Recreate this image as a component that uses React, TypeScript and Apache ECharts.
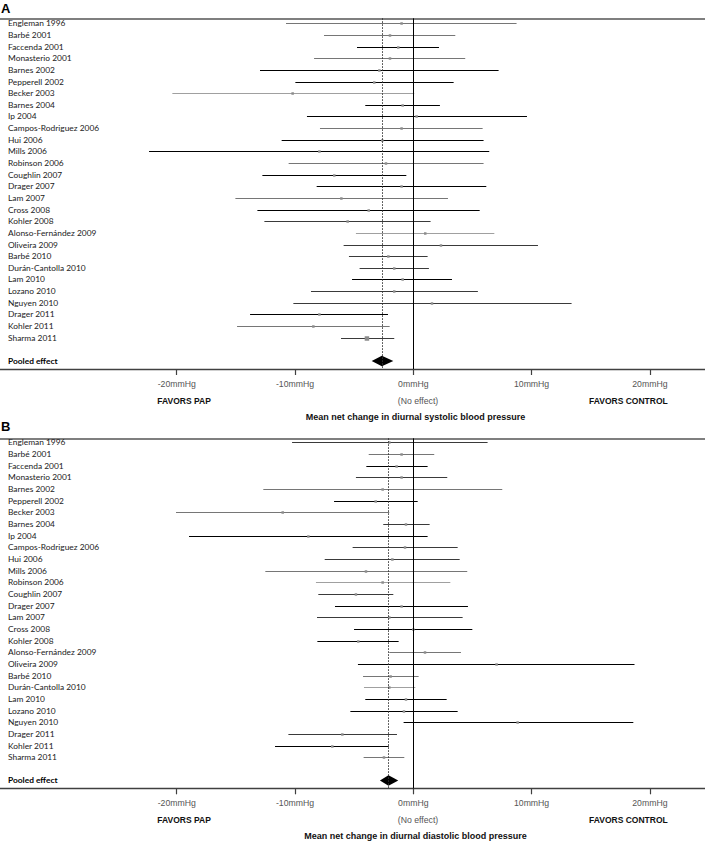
import React, { useEffect, useRef } from "react";
import * as echarts from "echarts";

const studies = [
  "Engleman 1996", "Barbé 2001", "Faccenda 2001", "Monasterio 2001", "Barnes 2002",
  "Pepperell 2002", "Becker 2003", "Barnes 2004", "Ip 2004", "Campos-Rodriguez 2006",
  "Hui 2006", "Mills 2006", "Robinson 2006", "Coughlin 2007", "Drager 2007", "Lam 2007",
  "Cross 2008", "Kohler 2008", "Alonso-Fernández 2009", "Oliveira 2009", "Barbé 2010",
  "Durán-Cantolla 2010", "Lam 2010", "Lozano 2010", "Nguyen 2010", "Drager 2011",
  "Kohler 2011", "Sharma 2011",
];
const pooledLabel = "Pooled effect";

const systolicMean = [-0.99, -1.97, -1.27, -1.97, -2.87, -3.3, -10.2, -0.9, 0.28, -0.99, -2.62, -7.94, -2.31, -6.68, -0.99, -6.08, -3.77, -5.55, 1.01, 2.34, -2.11, -1.61, -0.9, -1.61, 1.58, -7.94, -8.45, -3.92];
const systolicLow = [-10.76, -7.55, -4.76, -8.39, -12.96, -9.97, -20.37, -4.06, -8.99, -7.89, -11.13, -22.34, -10.54, -12.76, -8.17, -15.04, -13.18, -12.59, -4.85, -5.89, -5.44, -4.54, -5.18, -8.65, -10.14, -13.8, -14.9, -6.11];
const systolicHigh = [8.73, 3.55, 2.17, 4.39, 7.21, 3.41, 0.08, 2.25, 9.61, 5.86, 5.94, 6.42, 5.94, -0.59, 6.17, 2.93, 5.61, 1.46, 6.85, 10.54, 1.21, 1.32, 3.27, 5.46, 13.38, -2.14, -2.0, -1.61];
const systolicPooled = [-3.52, -2.66, -1.69]; // low, mean, high

const diastolicMean = [-2.03, -0.99, -1.41, -0.99, -2.59, -3.18, -11.04, -0.62, -8.87, -0.7, -1.77, -4.0, -2.59, -4.85, -0.99, -2.03, 0.0, -4.65, 0.99, 7.04, -1.92, -2.03, -0.62, -0.79, 8.82, -6.0, -6.85, -2.48];
const diastolicLow = [-10.25, -3.77, -3.97, -4.85, -12.68, -6.7, -20.06, -2.54, -18.96, -5.13, -7.49, -12.51, -8.23, -8.03, -6.62, -8.14, -5.01, -8.11, -2.03, -4.68, -4.25, -4.17, -4.06, -5.32, -0.82, -10.56, -11.69, -4.2];
const diastolicHigh = [6.28, 1.77, 1.21, 2.87, 7.52, 0.37, -2.03, 1.38, 1.21, 3.75, 3.92, 4.56, 3.13, -1.69, 4.62, 4.17, 4.99, -1.24, 4.03, 18.7, 0.45, 0.17, 2.82, 3.75, 18.6, -1.38, -2.08, -0.76];
const diastolicPooled = [-2.82, -2.1, -1.27];

const tickValues = [-20, -10, 0, 10, 20];
const tickUnit = "mmHg";
const favorsLeft = "FAVORS PAP";
const noEffect = "(No effect)";
const favorsRight = "FAVORS CONTROL";
const titleA = "Mean net change in diurnal systolic blood pressure";
const titleB = "Mean net change in diurnal diastolic blood pressure";

// styles
const shadeColors = ["#000000", "#3a3a3a", "#767676", "#a0a0a0"];
const shadeA = [2, 2, 0, 2, 0, 0, 3, 0, 0, 2, 0, 0, 2, 0, 0, 2, 0, 1, 3, 1, 1, 1, 0, 1, 1, 0, 2, 1];
const shadeB = [1, 2, 0, 1, 2, 0, 2, 1, 0, 1, 1, 2, 3, 1, 0, 1, 0, 0, 2, 0, 2, 3, 0, 0, 0, 1, 0, 2];

const X_MIN = -34.94;
const X_MAX = 24.66;
const POOLED_ROW = studies.length + 1;
const labelFont = "Lato, 'Noto Sans', sans-serif";
const axisFont = "'Liberation Sans', Arial, sans-serif";

function buildPanel(idx: number, mean: number[], low: number[], high: number[], pooled: number[], shade: number[], bigIdx: number) {
  const rows = mean.map((m, i) => [low[i], high[i], m, i]);
  const renderCI = (params: any, api: any) => {
    const row = api.value(3);
    const a = api.coord([api.value(0), row]);
    const b = api.coord([api.value(1), row]);
    const c = api.coord([api.value(2), row]);
    const s = params.dataIndex === bigIdx ? 4.5 : 2.5;
    const y = Math.round(a[1]) + 0.5;
    return {
      type: "group",
      children: [
        { type: "line", shape: { x1: a[0], y1: y, x2: b[0], y2: y }, style: { stroke: shadeColors[shade[params.dataIndex]], lineWidth: 1.2 } },
        { type: "rect", shape: { x: c[0] - s / 2, y: y - s / 2, width: s, height: s }, style: { fill: "#8c8c8c" } },
      ],
    };
  };
  const renderDiamond = (params: any, api: any) => {
    const row = api.value(3);
    const l = api.coord([api.value(0), row]);
    const h = api.coord([api.value(1), row]);
    const top = api.coord([api.value(2), row - 0.45]);
    const bot = api.coord([api.value(2), row + 0.45]);
    return {
      type: "polygon",
      shape: { points: [l, top, h, bot] },
      style: { fill: "#000" },
    };
  };
  return [
    {
      type: "custom",
      xAxisIndex: idx * 2,
      yAxisIndex: idx,
      renderItem: renderCI,
      encode: { x: [0, 1, 2], y: 3 },
      data: rows,
      silent: true,
      z: 3,
    },
    {
      type: "custom",
      xAxisIndex: idx * 2,
      yAxisIndex: idx,
      renderItem: renderDiamond,
      encode: { x: [0, 1, 2], y: 3 },
      data: [[pooled[0], pooled[2], pooled[1], POOLED_ROW]],
      silent: true,
      z: 4,
      markLine: {
        silent: true,
        symbol: "none",
        label: { show: false },
        data: [
          { xAxis: 0, lineStyle: { color: "#000", width: 1, type: "solid" } },
          { xAxis: pooled[1], lineStyle: { color: "#333", width: 1, type: [1.5, 1.5] } },
        ],
      },
    },
  ];
}

export default function App() {
  const ref = useRef<HTMLDivElement>(null);
  useEffect(() => {
    if (!ref.current) return;
    const chart = echarts.init(ref.current, null, { renderer: "svg" });

    const grids = [
      { left: 0, right: 0, top: 18.3, height: 350.7 },
      { left: 0, right: 0, top: 438.3, height: 350 },
    ];
    const yRanges = [
      [-0.43, 29.69],
      [-0.343, 29.67],
    ];
    const labelVals = [...studies.map((_, i) => i), POOLED_ROW];

    const xAxes: any[] = [];
    const yAxes: any[] = [];
    [0, 1].forEach((g) => {
      xAxes.push({
        type: "value",
        gridIndex: g,
        min: X_MIN,
        max: X_MAX,
        position: "bottom",
        axisLine: { show: true, onZero: false, lineStyle: { color: "#404040", width: 1.3 } },
        axisTick: { show: true, customValues: tickValues, length: 6, lineStyle: { color: "#404040", width: 1.2 } },
        axisLabel: {
          show: true,
          customValues: tickValues,
          formatter: (v: number) => `${v}${tickUnit}`,
          margin: 10,
          color: "#555",
          fontSize: 8.7,
          fontFamily: axisFont,
        },
        splitLine: { show: false },
      });
      xAxes.push({
        type: "value",
        gridIndex: g,
        min: X_MIN,
        max: X_MAX,
        position: "top",
        axisLine: { show: true, onZero: false, lineStyle: { color: "#555", width: 1.5 } },
        axisTick: { show: false },
        axisLabel: { show: false },
        splitLine: { show: false },
      });
      yAxes.push({
        type: "value",
        gridIndex: g,
        inverse: true,
        min: yRanges[g][0],
        max: yRanges[g][1],
        axisLine: { show: false },
        axisTick: { show: false },
        splitLine: { show: false },
        axisLabel: {
          show: true,
          inside: true,
          margin: 8,
          customValues: labelVals,
          fontSize: 8.4,
          fontFamily: labelFont,
          color: "#1a1a1a",
          formatter: (v: number) => {
            const i = Math.round(v);
            return i === POOLED_ROW ? `{b|${pooledLabel}}` : studies[i];
          },
          rich: { b: { fontWeight: "bold", fontSize: 8.4, fontFamily: labelFont, color: "#000" } },
        },
      });
    });

    const textEl = (text: string, x: number, y: number, align: string, size: number, bold: boolean, color: string, font = axisFont) => ({
      type: "text",
      x,
      y,
      style: { text, fill: color, fontSize: size, fontWeight: bold ? "bold" : "normal", fontFamily: font, textAlign: align, textVerticalAlign: "middle" },
      silent: true,
    });

    const graphics: any[] = [
      textEl("A", 1, 8, "left", 13, true, "#000"),
      textEl("B", 1, 426, "left", 13, true, "#000"),
    ];
    [0, 419].forEach((dy, g) => {
      graphics.push(textEl(favorsLeft, 157.3, 400.7 + dy, "left", 8.5, true, "#111"));
      graphics.push(textEl(noEffect, 418, 400.7 + dy, "center", 8.7, false, "#555"));
      graphics.push(textEl(favorsRight, 589, 400.7 + dy, "left", 8.5, true, "#111"));
      graphics.push(textEl(g === 0 ? titleA : titleB, 415.5, 417 + dy, "center", 9, true, "#111"));
    });

    chart.setOption({
      animation: false,
      backgroundColor: "#fff",
      grid: grids,
      xAxis: xAxes,
      yAxis: yAxes,
      series: [
        ...buildPanel(0, systolicMean, systolicLow, systolicHigh, systolicPooled, shadeA, 27),
        ...buildPanel(1, diastolicMean, diastolicLow, diastolicHigh, diastolicPooled, shadeB, -1),
      ],
      graphic: graphics,
    });
    return () => chart.dispose();
  }, []);
  return <div ref={ref} style={{ position: "absolute", left: 0, top: 0, width: 705, height: 841 }} />;
}
